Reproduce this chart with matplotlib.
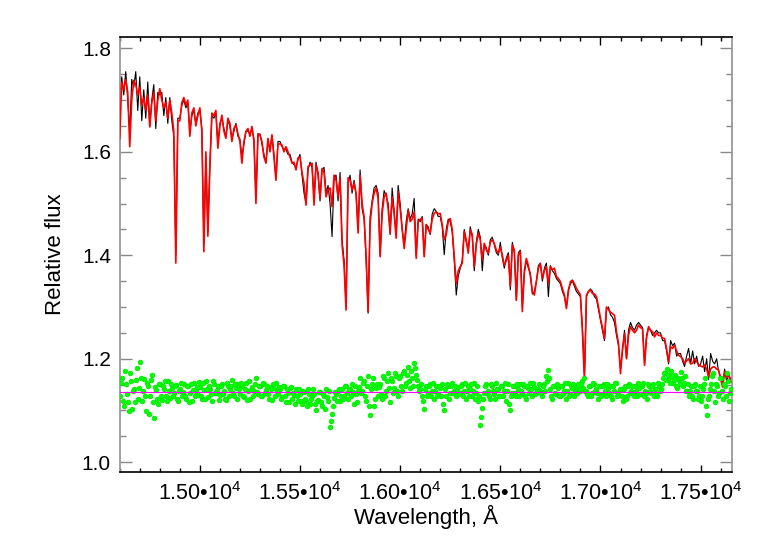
import numpy as np
import matplotlib
matplotlib.use("Agg")
import matplotlib.pyplot as plt
from matplotlib.ticker import MultipleLocator, FuncFormatter

plt.rcParams['font.family'] = ['Liberation Sans', 'DejaVu Sans']
plt.rcParams['mathtext.fontset'] = 'custom'
plt.rcParams['mathtext.rm'] = 'Liberation Sans'
plt.rcParams['mathtext.it'] = 'Liberation Sans:italic'

# wavelength grid (Angstrom), 10 A sampling
wave_start = 14600
wave_step = 10
wave_count = 306

model_flux = [
    1.626,1.735,1.72,1.74,1.715,1.61,1.70,1.738,1.73,1.71,
    1.725,1.69,1.705,1.68,1.71,1.648,1.695,1.715,1.66,1.70,
    1.722,1.70,1.685,1.695,1.665,1.70,1.675,1.64,1.385,1.66,
    1.66,1.695,1.705,1.69,1.70,1.63,1.675,1.685,1.65,1.67,
    1.685,1.64,1.407,1.60,1.437,1.57,1.675,1.67,1.68,1.607,
    1.65,1.671,1.64,1.626,1.665,1.655,1.62,1.645,1.652,1.635,
    1.62,1.578,1.62,1.639,1.645,1.63,1.649,1.62,1.50,1.635,
    1.632,1.62,1.59,1.578,1.626,1.60,1.633,1.59,1.545,1.616,
    1.615,1.613,1.60,1.61,1.60,1.59,1.578,1.58,1.565,1.588,
    1.59,1.56,1.539,1.497,1.571,1.575,1.578,1.497,1.575,1.56,
    1.51,1.568,1.56,1.513,1.526,1.53,1.494,1.555,1.545,1.513,
    1.549,1.42,1.38,1.294,1.55,1.545,1.526,1.54,1.52,1.443,
    1.555,1.50,1.474,1.40,1.291,1.462,1.50,1.52,1.53,1.51,
    1.397,1.48,1.513,1.52,1.49,1.443,1.513,1.48,1.433,1.523,
    1.49,1.452,1.413,1.45,1.487,1.465,1.47,1.484,1.394,1.465,
    1.47,1.471,1.397,1.459,1.45,1.443,1.47,1.481,1.484,1.48,
    1.481,1.459,1.43,1.44,1.465,1.471,1.45,1.397,1.345,1.37,
    1.378,1.385,1.446,1.43,1.404,1.449,1.44,1.378,1.42,1.443,
    1.43,1.391,1.423,1.41,1.404,1.425,1.43,1.423,1.41,1.404,
    1.416,1.40,1.38,1.39,1.40,1.34,1.42,1.41,1.313,1.40,
    1.407,1.291,1.37,1.394,1.38,1.36,1.33,1.323,1.349,1.375,
    1.384,1.355,1.37,1.378,1.345,1.378,1.372,1.375,1.359,1.355,
    1.349,1.335,1.323,1.297,1.33,1.349,1.352,1.345,1.336,1.33,
    1.323,1.25,1.158,1.323,1.33,1.333,1.326,1.325,1.32,1.30,
    1.278,1.26,1.239,1.30,1.295,1.29,1.287,1.284,1.252,1.23,
    1.171,1.22,1.249,1.20,1.245,1.262,1.255,1.25,1.255,1.265,
    1.26,1.258,1.187,1.24,1.262,1.255,1.252,1.242,1.25,1.245,
    1.245,1.24,1.239,1.22,1.194,1.223,1.22,1.226,1.215,1.207,
    1.204,1.20,1.191,1.196,1.20,1.19,1.191,1.20,1.195,1.188,
    1.186,1.184,1.188,1.18,1.165,1.18,1.184,1.184,1.18,1.178,
    1.16,1.145,1.175,1.165,1.17,1.155,
]

observed_flux = [
    1.70,1.745,1.71,1.755,1.70,1.64,1.74,1.725,1.755,1.68,
    1.745,1.66,1.72,1.665,1.735,1.65,1.70,1.73,1.645,1.715,
    1.71,1.715,1.67,1.705,1.655,1.705,1.66,1.63,1.40,1.665,
    1.665,1.69,1.70,1.685,1.695,1.64,1.67,1.68,1.655,1.675,
    1.68,1.645,1.42,1.59,1.445,1.575,1.67,1.665,1.675,1.615,
    1.655,1.665,1.645,1.63,1.66,1.65,1.625,1.64,1.655,1.63,
    1.625,1.59,1.615,1.64,1.64,1.635,1.645,1.625,1.51,1.63,
    1.635,1.615,1.595,1.58,1.62,1.605,1.63,1.595,1.55,1.62,
    1.62,1.61,1.605,1.605,1.595,1.595,1.58,1.575,1.57,1.585,
    1.595,1.555,1.52,1.50,1.565,1.58,1.57,1.51,1.58,1.555,
    1.505,1.565,1.57,1.52,1.535,1.50,1.436,1.55,1.555,1.505,
    1.56,1.43,1.39,1.30,1.54,1.555,1.52,1.545,1.515,1.45,
    1.565,1.49,1.47,1.39,1.288,1.475,1.505,1.53,1.535,1.52,
    1.40,1.49,1.525,1.515,1.50,1.44,1.53,1.485,1.44,1.535,
    1.50,1.45,1.42,1.465,1.49,1.47,1.48,1.51,1.40,1.47,
    1.465,1.475,1.40,1.46,1.455,1.44,1.48,1.49,1.485,1.475,
    1.475,1.455,1.401,1.45,1.47,1.465,1.445,1.39,1.323,1.36,
    1.375,1.39,1.45,1.425,1.41,1.455,1.435,1.37,1.425,1.45,
    1.435,1.37,1.42,1.415,1.40,1.43,1.435,1.42,1.405,1.40,
    1.425,1.395,1.375,1.395,1.405,1.333,1.425,1.405,1.313,1.405,
    1.41,1.30,1.365,1.39,1.375,1.365,1.325,1.33,1.35,1.38,
    1.385,1.35,1.375,1.385,1.32,1.38,1.37,1.365,1.355,1.35,
    1.345,1.33,1.32,1.30,1.335,1.345,1.35,1.34,1.33,1.325,
    1.32,1.26,1.17,1.32,1.33,1.335,1.33,1.32,1.315,1.295,
    1.275,1.255,1.235,1.295,1.30,1.285,1.28,1.27,1.245,1.225,
    1.18,1.215,1.255,1.20,1.255,1.27,1.26,1.255,1.265,1.27,
    1.265,1.26,1.19,1.245,1.26,1.255,1.245,1.25,1.255,1.25,
    1.25,1.235,1.235,1.215,1.19,1.235,1.225,1.23,1.205,1.21,
    1.21,1.195,1.185,1.205,1.22,1.19,1.215,1.19,1.205,1.185,
    1.19,1.205,1.175,1.20,1.16,1.21,1.195,1.19,1.20,1.175,
    1.165,1.15,1.18,1.155,1.17,1.16,
]

# residuals sampled on the 10 A grid
residual_flux = [
    1.128,1.163,1.108,1.152,1.117,1.172,1.103,1.141,1.158,1.122,
    1.194,1.118,1.161,1.098,1.147,1.127,1.168,1.085,1.139,1.112,
    1.151,1.121,1.142,1.128,1.156,1.124,1.143,1.133,1.149,1.118,
    1.141,1.127,1.152,1.122,1.147,1.133,1.119,1.153,1.138,1.129,
    1.146,1.123,1.139,1.157,1.126,1.142,1.118,1.151,1.134,1.147,
    1.129,1.152,1.137,1.121,1.148,1.141,1.158,1.127,1.143,1.151,
    1.132,1.147,1.126,1.153,1.138,1.122,1.146,1.137,1.162,1.131,
    1.148,1.127,1.152,1.139,1.131,1.146,1.121,1.143,1.153,1.132,
    1.141,1.126,1.147,1.117,1.134,1.143,1.122,1.129,1.142,1.118,
    1.131,1.113,1.136,1.118,1.142,1.112,1.127,1.132,1.101,1.121,
    1.136,1.108,1.127,1.141,1.118,1.068,1.094,1.124,1.132,1.137,
    1.118,1.142,1.128,1.147,1.123,1.141,1.152,1.113,1.131,1.137,
    1.162,1.138,1.157,1.118,1.166,1.092,1.151,1.108,1.143,1.127,
    1.152,1.123,1.163,1.138,1.172,1.117,1.157,1.144,1.167,1.128,
    1.167,1.138,1.176,1.153,1.183,1.143,1.162,1.192,1.168,1.148,
    1.142,1.127,1.102,1.147,1.133,1.152,1.138,1.123,1.148,1.132,
    1.143,1.152,1.101,1.128,1.147,1.133,1.153,1.137,1.127,1.146,
    1.133,1.152,1.138,1.122,1.148,1.141,1.128,1.153,1.134,1.119,
    1.071,1.104,1.133,1.152,1.138,1.123,1.147,1.132,1.153,1.141,
    1.128,1.147,1.137,1.118,1.152,1.101,1.133,1.148,1.127,1.142,
    1.152,1.132,1.147,1.122,1.143,1.153,1.128,1.146,1.133,1.141,
    1.138,1.127,1.152,1.166,1.178,1.142,1.123,1.147,1.132,1.143,
    1.127,1.147,1.138,1.122,1.153,1.132,1.143,1.128,1.148,1.152,
    1.138,1.157,1.162,1.137,1.128,1.147,1.133,1.152,1.141,1.122,
    1.147,1.132,1.152,1.127,1.143,1.148,1.122,1.138,1.153,1.133,
    1.142,1.118,1.147,1.128,1.152,1.137,1.133,1.148,1.127,1.143,
    1.132,1.153,1.138,1.122,1.147,1.133,1.152,1.141,1.127,1.148,
    1.142,1.162,1.172,1.181,1.163,1.176,1.153,1.168,1.143,1.158,
    1.174,1.148,1.167,1.138,1.128,1.147,1.122,1.152,1.137,1.127,
    1.118,1.142,1.163,1.092,1.128,1.152,1.172,1.117,1.147,1.133,
    1.162,1.123,1.147,1.172,1.118,1.142,
]

# residuals at the half-step points (14605, 14615, ...)
residual_flux_half = [
    1.153,1.118,1.177,1.132,1.098,1.156,1.138,1.117,1.182,1.143,
    1.162,1.137,1.128,1.153,1.093,1.158,1.117,1.146,1.123,1.152,
    1.127,1.148,1.157,1.118,1.137,1.152,1.128,1.147,1.122,1.138,
    1.153,1.136,1.127,1.148,1.117,1.152,1.139,1.128,1.146,1.154,
    1.128,1.153,1.122,1.142,1.147,1.131,1.157,1.133,1.139,1.121,
    1.147,1.132,1.122,1.153,1.127,1.148,1.134,1.152,1.123,1.141,
    1.153,1.128,1.142,1.121,1.157,1.139,1.127,1.152,1.136,1.147,
    1.127,1.153,1.133,1.148,1.122,1.141,1.152,1.128,1.138,1.146,
    1.123,1.147,1.128,1.141,1.117,1.146,1.133,1.113,1.128,1.142,
    1.118,1.137,1.122,1.108,1.132,1.123,1.142,1.112,1.118,1.136,
    1.117,1.132,1.103,1.126,1.137,1.079,1.108,1.136,1.118,1.142,
    1.128,1.122,1.147,1.133,1.142,1.127,1.136,1.148,1.117,1.146,
    1.133,1.153,1.127,1.147,1.108,1.142,1.163,1.122,1.152,1.146,
    1.132,1.167,1.127,1.157,1.143,1.162,1.133,1.172,1.138,1.162,
    1.148,1.172,1.147,1.168,1.157,1.177,1.148,1.182,1.158,1.138,
    1.152,1.118,1.142,1.127,1.147,1.128,1.153,1.138,1.127,1.147,
    1.128,1.113,1.142,1.152,1.122,1.147,1.133,1.148,1.138,1.132,
    1.147,1.127,1.153,1.137,1.128,1.152,1.138,1.122,1.147,1.128,
    1.088,1.122,1.147,1.133,1.127,1.152,1.138,1.122,1.142,1.128,
    1.147,1.127,1.153,1.138,1.112,1.128,1.147,1.133,1.152,1.127,
    1.138,1.152,1.128,1.147,1.133,1.142,1.153,1.132,1.138,1.152,
    1.133,1.147,1.138,1.157,1.162,1.128,1.147,1.133,1.152,1.127,
    1.147,1.132,1.153,1.138,1.127,1.147,1.152,1.137,1.133,1.142,
    1.152,1.143,1.137,1.132,1.147,1.127,1.153,1.138,1.133,1.147,
    1.127,1.147,1.138,1.152,1.133,1.128,1.147,1.153,1.127,1.142,
    1.128,1.142,1.122,1.147,1.133,1.148,1.127,1.138,1.153,1.132,
    1.147,1.128,1.133,1.152,1.138,1.147,1.127,1.132,1.153,1.137,
    1.152,1.172,1.158,1.168,1.153,1.167,1.158,1.148,1.163,1.152,
    1.162,1.153,1.138,1.152,1.137,1.128,1.147,1.138,1.122,1.147,
    1.128,1.152,1.108,1.122,1.142,1.167,1.138,1.152,1.127,1.162,
    1.138,1.152,1.127,1.157,1.133,
]

residual_zero = 1.136

x_limits = (14600, 17655)
y_limits = (0.981, 1.822)
xlabel = "Wavelength, Å"
ylabel = "Relative flux"

wave = wave_start + wave_step * np.arange(wave_count)
wave_half = wave_start + wave_step / 2 + wave_step * np.arange(len(residual_flux_half))

fig = plt.figure(figsize=(7.68, 5.49), dpi=100)
ax = fig.add_axes([0.1559, 0.1403, 0.7968, 0.7923])

ax.plot(wave, observed_flux, color='black', lw=0.8, zorder=2)
ax.plot(wave, model_flux, color='#ff0000', lw=1.2, zorder=3)
for wx, wy in ((wave, residual_flux), (wave_half, residual_flux_half)):
    ax.plot(wx, wy, linestyle='none', marker='o', ms=3.4,
            mfc='#00ff00', mec='#00e000', mew=0.5, zorder=4)
ax.axhline(residual_zero, color='#ff00ff', lw=0.8, zorder=5)

ax.set_xlim(*x_limits)
ax.set_ylim(*y_limits)

ax.xaxis.set_major_locator(MultipleLocator(500))
ax.xaxis.set_minor_locator(MultipleLocator(100))
ax.yaxis.set_major_locator(MultipleLocator(0.2))
ax.yaxis.set_minor_locator(MultipleLocator(0.05))

def xfmt(v, pos):
    return "%.2f•10$^{4}$" % (v / 1e4)

ax.xaxis.set_major_formatter(FuncFormatter(xfmt))
ax.yaxis.set_major_formatter(FuncFormatter(lambda v, p: "%.1f" % v))

ax.tick_params(axis='x', which='major', direction='in', length=5.4, width=1,
               top=True, bottom=True, labelsize=15.5, pad=7, color='black')
ax.tick_params(axis='x', which='minor', direction='in', length=2.9, width=1,
               top=True, bottom=True, color='black')
ax.tick_params(axis='y', which='major', direction='in', length=8.6, width=1,
               left=True, right=True, labelsize=15, pad=6.3, color='#888888')
ax.tick_params(axis='y', which='minor', direction='in', length=4.3, width=1,
               left=True, right=True, color='#888888')

for s in ['top', 'bottom']:
    ax.spines[s].set_color('black')
    ax.spines[s].set_linewidth(1.2)
for s in ['left', 'right']:
    ax.spines[s].set_color('#999999')
    ax.spines[s].set_linewidth(1.3)

ax.set_xlabel(xlabel, fontsize=16)
ax.set_ylabel(ylabel, fontsize=16)
ax.xaxis.set_label_coords(0.5, -0.076)
ax.yaxis.set_label_coords(-0.088, 0.5)

fig.savefig("out.png", dpi=100)
